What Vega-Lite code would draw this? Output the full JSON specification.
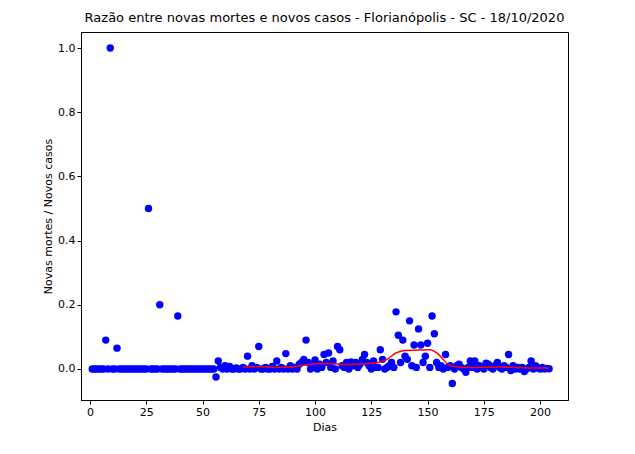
{
  "$schema": "https://vega.github.io/schema/vega-lite/v6.json",
  "autosize": {"type": "none"},
  "padding": {"left": 81, "top": 32, "right": 67, "bottom": 54},
  "width": 487,
  "height": 368,
  "title": {"text": "Razão entre novas mortes e novos casos - Florianópolis - SC - 18/10/2020", "fontSize": 13, "fontWeight": "normal", "font": "DejaVu Sans", "color": "black", "offset": 7},
  "config": {"font": "DejaVu Sans", "view": {"stroke": "black"}, "axis": {"grid": false, "domainColor": "black", "tickColor": "black", "labelColor": "black", "titleColor": "black", "labelFontSize": 11, "titleFontSize": 11, "titleFontWeight": "normal", "tickSize": 4}},
  "datasets": {
    "pts": [
      {"d":1,"r":0},{"d":2,"r":0},{"d":3,"r":0},{"d":4,"r":0},{"d":5,"r":0},{"d":6,"r":0},{"d":7,"r":0.09},{"d":8,"r":0},{"d":9,"r":1.0},{"d":10,"r":0},{"d":11,"r":0},{"d":12,"r":0.065},{"d":13,"r":0},{"d":14,"r":0},{"d":15,"r":0},{"d":16,"r":0},{"d":17,"r":0},{"d":18,"r":0},{"d":19,"r":0},{"d":20,"r":0},{"d":21,"r":0},{"d":22,"r":0},{"d":23,"r":0},{"d":24,"r":0},{"d":25,"r":0},{"d":26,"r":0.5},{"d":27,"r":0},{"d":28,"r":0},{"d":29,"r":0},{"d":30,"r":0},{"d":31,"r":0.2},{"d":32,"r":0},{"d":33,"r":0},{"d":34,"r":0},{"d":35,"r":0},{"d":36,"r":0},{"d":37,"r":0},{"d":38,"r":0},{"d":39,"r":0.165},{"d":40,"r":0},{"d":41,"r":0},{"d":42,"r":0},{"d":43,"r":0},{"d":44,"r":0},{"d":45,"r":0},{"d":46,"r":0},{"d":47,"r":0},{"d":48,"r":0},{"d":49,"r":0},{"d":50,"r":0},{"d":51,"r":0},{"d":52,"r":0},{"d":53,"r":0},{"d":54,"r":0},{"d":55,"r":0},{"d":56,"r":-0.025},{"d":57,"r":0.025},
      {"d":58,"r":0.005},{"d":59,"r":0},{"d":60,"r":0.01},{"d":61,"r":0},{"d":62,"r":0.008},{"d":63,"r":0},{"d":64,"r":0},{"d":65,"r":0.003},{"d":66,"r":0},{"d":67,"r":0},{"d":68,"r":0.005},{"d":69,"r":0},{"d":70,"r":0.04},{"d":71,"r":0},{"d":72,"r":0.01},{"d":73,"r":0},{"d":74,"r":0.005},{"d":75,"r":0.07},{"d":76,"r":0},{"d":77,"r":0},{"d":78,"r":0.005},{"d":79,"r":0},{"d":80,"r":0},{"d":81,"r":0.008},{"d":82,"r":0},{"d":83,"r":0.025},{"d":84,"r":0},{"d":85,"r":0.005},{"d":86,"r":0},{"d":87,"r":0.048},{"d":88,"r":0},{"d":89,"r":0.01},{"d":90,"r":0},{"d":91,"r":0.005},{"d":92,"r":0},{"d":93,"r":0.015},{"d":94,"r":0.02},{"d":95,"r":0.03},{"d":96,"r":0.09},{"d":97,"r":0.02},{"d":98,"r":0},{"d":99,"r":0.01},{"d":100,"r":0.028},{"d":101,"r":0},{"d":102,"r":0.015},{"d":103,"r":0.005},{"d":104,"r":0.045},{"d":105,"r":0.02},{"d":106,"r":0.05},{"d":107,"r":0.005},{"d":108,"r":0.025},{"d":109,"r":0},{"d":110,"r":0.07},{"d":111,"r":0.06},{"d":112,"r":0.01},{"d":113,"r":0.005},{"d":114,"r":0.02},{"d":115,"r":0},{"d":116,"r":0.022},{"d":117,"r":0.01},{"d":118,"r":0.02},{"d":119,"r":0.005},{"d":120,"r":0.015},{"d":121,"r":0.03},{"d":122,"r":0.045},{"d":123,"r":0.02},{"d":124,"r":0.01},{"d":125,"r":0},{"d":126,"r":0.025},{"d":127,"r":0.005},{"d":128,"r":0.005},{"d":129,"r":0.06},{"d":130,"r":0.03},{"d":131,"r":0},{"d":132,"r":0.005},{"d":133,"r":0.01},{"d":134,"r":0.02},{"d":135,"r":0.005},{"d":136,"r":0.178},{"d":137,"r":0.105},{"d":138,"r":0.02},{"d":139,"r":0.09},{"d":140,"r":0.04},{"d":141,"r":0.03},{"d":142,"r":0.15},{"d":143,"r":0.01},{"d":144,"r":0.075},{"d":145,"r":0.005},{"d":146,"r":0.125},{"d":147,"r":0.075},{"d":148,"r":0.02},{"d":149,"r":0.04},{"d":150,"r":0.08},{"d":151,"r":0.005},{"d":152,"r":0.165},{"d":153,"r":0.11},{"d":154,"r":0.02},{"d":155,"r":0.005},{"d":156,"r":0.01},{"d":157,"r":0},{"d":158,"r":0.045},{"d":159,"r":0.005},{"d":160,"r":0.01},{"d":161,"r":-0.045},{"d":162,"r":0},{"d":163,"r":0.01},{"d":164,"r":0.015},{"d":165,"r":0.005},{"d":166,"r":0},{"d":167,"r":-0.01},{"d":168,"r":0.005},{"d":169,"r":0.025},{"d":170,"r":0.005},{"d":171,"r":0.025},{"d":172,"r":0},{"d":173,"r":0.01},{"d":174,"r":0.005},{"d":175,"r":0},{"d":176,"r":0.018},{"d":177,"r":0.015},{"d":178,"r":0.005},{"d":179,"r":0},{"d":180,"r":0.01},{"d":181,"r":0.02},{"d":182,"r":0.005},{"d":183,"r":0},{"d":184,"r":0.01},{"d":185,"r":0.005},{"d":186,"r":0.045},{"d":187,"r":-0.005},{"d":188,"r":0.01},{"d":189,"r":0},{"d":190,"r":0.005},{"d":191,"r":0},{"d":192,"r":0.005},{"d":193,"r":-0.008},{"d":194,"r":0},{"d":195,"r":0.005},{"d":196,"r":0.025},{"d":197,"r":0},{"d":198,"r":0.01},{"d":199,"r":0.003},{"d":200,"r":0},{"d":201,"r":0.005},{"d":202,"r":0},{"d":203,"r":0.002},{"d":204,"r":0.001}
    ],
    "ma": [
      {"d":68,"m":0.006},{"d":75,"m":0.008},{"d":82,"m":0.005},{"d":90,"m":0.006},{"d":95,"m":0.012},{"d":100,"m":0.016},{"d":108,"m":0.016},{"d":115,"m":0.014},{"d":122,"m":0.016},{"d":128,"m":0.02},{"d":132,"m":0.03},{"d":136,"m":0.05},{"d":140,"m":0.058},{"d":146,"m":0.059},{"d":151,"m":0.06},{"d":155,"m":0.045},{"d":159,"m":0.015},{"d":163,"m":0.006},{"d":170,"m":0.005},{"d":180,"m":0.006},{"d":190,"m":0.005},{"d":198,"m":0.003},{"d":204,"m":0.003}
    ]
  },
  "layer": [
    {
      "data": {"name": "pts"},
      "mark": {"type": "point", "filled": true, "size": 55, "color": "#0000ff", "opacity": 1},
      "encoding": {
        "x": {"field": "d", "type": "quantitative", "title": "Dias", "scale": {"domain": [-4, 212.4], "nice": false}, "axis": {"values": [0, 25, 50, 75, 100, 125, 150, 175, 200]}},
        "y": {"field": "r", "type": "quantitative", "title": "Novas mortes / Novos casos", "scale": {"domain": [-0.0966, 1.05], "nice": false}, "axis": {"values": [0, 0.2, 0.4, 0.6, 0.8, 1.0], "format": ".1f"}}
      }
    },
    {
      "data": {"name": "ma"},
      "mark": {"type": "line", "color": "red", "strokeWidth": 1.5, "interpolate": "monotone"},
      "encoding": {
        "x": {"field": "d", "type": "quantitative"},
        "y": {"field": "m", "type": "quantitative"}
      }
    }
  ]
}
